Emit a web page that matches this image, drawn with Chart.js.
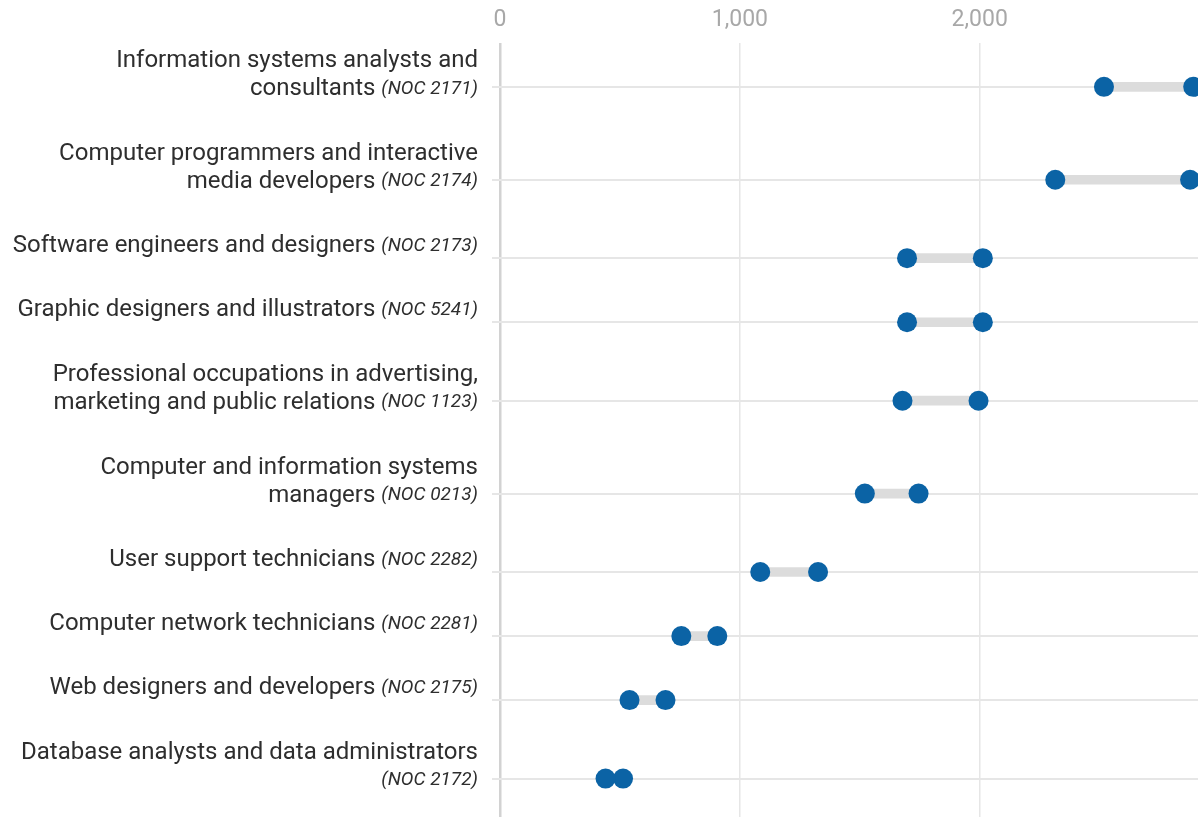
<!DOCTYPE html>
<html>
<head>
<meta charset="utf-8">
<script src="https://cdn.jsdelivr.net/npm/chart.js@4.4.1/dist/chart.umd.min.js"></script>
<style>
  html, body { margin: 0; padding: 0; background: #fff; }
  #wrap { width: 1198px; height: 817px; }
</style>
</head>
<body>
<div id="wrap"><canvas id="dumbbell" width="1198" height="817"></canvas></div>
<script>
// 직업 이름 (줄 단위) 과 NOC 코드
const occupations = [
  ['Information systems analysts and', 'consultants'],
  ['Computer programmers and interactive', 'media developers'],
  ['Software engineers and designers'],
  ['Graphic designers and illustrators'],
  ['Professional occupations in advertising,', 'marketing and public relations'],
  ['Computer and information systems', 'managers'],
  ['User support technicians'],
  ['Computer network technicians'],
  ['Web designers and developers'],
  ['Database analysts and data administrators', '']
];
const nocCodes = ['2171', '2174', '2173', '5241', '1123', '0213', '2282', '2281', '2175', '2172'];

// 시작값 / 끝값
const lowValues = [2518, 2315, 1697, 1697, 1678, 1521, 1085, 756, 540, 440];
const highValues = [2890, 2877, 2013, 2013, 1995, 1745, 1326, 906, 690, 513];

// x축 눈금
const xTicks = [0, 1000, 2000];

// 두 줄 라벨은 행 간격을 넓게
const rowPos = [];
let acc = 0;
occupations.forEach((lines, i) => {
  const h = lines.length > 1 ? 1.45 : 1;
  if (i > 0) {
    const prevH = occupations[i - 1].length > 1 ? 1.45 : 1;
    acc += (prevH + h) / 2;
  }
  rowPos.push(acc);
});

const BLUE = '#0b63a5';
const LABEL_RIGHT = 478;

// 라벨 그리기 (일반 + 이탤릭 NOC)
const labelPlugin = {
  id: 'rowLabels',
  afterDraw(chart) {
    const ctx = chart.ctx;
    const yScale = chart.scales.y;
    ctx.save();
    ctx.fillStyle = '#2e2e2e';
    ctx.textBaseline = 'middle';
    ctx.textAlign = 'right';
    occupations.forEach((lines, i) => {
      const y = yScale.getPixelForValue(rowPos[i]);
      const lastY = lines.length > 1 ? y + 2 : y - 12;
      const noc = '(NOC ' + nocCodes[i] + ')';
      ctx.font = 'italic 19px Roboto';
      const nocW = ctx.measureText(noc).width;
      ctx.fillText(noc, LABEL_RIGHT, lastY);
      ctx.font = '24px Roboto';
      const last = lines[lines.length - 1];
      if (last) ctx.fillText(last, LABEL_RIGHT - nocW - 6, lastY);
      if (lines.length > 1) ctx.fillText(lines[0], LABEL_RIGHT, lastY - 28);
    });
    ctx.restore();
  }
};

const ctx = document.getElementById('dumbbell').getContext('2d');
new Chart(ctx, {
  data: {
    datasets: [
      {
        type: 'bar',
        indexAxis: 'y',
        data: rowPos.map((p, i) => ({ x: [lowValues[i], highValues[i]], y: p })),
        backgroundColor: '#dcdcdc',
        barThickness: 9,
        order: 3
      },
      {
        type: 'scatter',
        data: rowPos.map((p, i) => ({ x: lowValues[i], y: p })),
        backgroundColor: BLUE,
        borderWidth: 0,
        pointRadius: 10,
        pointHoverRadius: 10,
        order: 1
      },
      {
        type: 'scatter',
        data: rowPos.map((p, i) => ({ x: highValues[i], y: p })),
        backgroundColor: BLUE,
        borderWidth: 0,
        pointRadius: 10,
        pointHoverRadius: 10,
        order: 1
      }
    ]
  },
  options: {
    responsive: false,
    animation: false,
    devicePixelRatio: 1,
    layout: { padding: 0, autoPadding: false },
    plugins: {
      legend: { display: false },
      tooltip: { enabled: false }
    },
    scales: {
      x: {
        type: 'linear',
        position: 'top',
        min: 0,
        max: 2910,
        offset: false,
        afterBuildTicks: (scale) => {
          scale.ticks = xTicks.map(v => ({ value: v }));
        },
        afterFit: (scale) => {
          scale.height = 43;
          scale.paddingLeft = 0;
          scale.paddingRight = 0;
        },
        ticks: {
          padding: 9,
          color: '#a8a8a8',
          font: { family: 'Roboto', size: 23 },
          callback: (v) => v.toLocaleString('en-US')
        },
        grid: {
          offset: false,
          drawTicks: false,
          color: (c) => c.tick && c.tick.value === 0 ? '#d2d2d2' : '#e6e6e6',
          lineWidth: (c) => c.tick && c.tick.value === 0 ? 2.5 : 1.5
        },
        border: { display: false }
      },
      y: {
        type: 'linear',
        reverse: true,
        min: -0.685,
        max: 11.40,
        offset: false,
        afterBuildTicks: (scale) => {
          scale.ticks = rowPos.map(v => ({ value: v }));
        },
        afterFit: (scale) => { scale.width = 500; },
        ticks: { display: false },
        grid: {
          offset: false,
          color: '#e6e6e6',
          lineWidth: 2,
          drawTicks: true,
          tickLength: 8
        },
        border: { display: false }
      }
    }
  },
  plugins: [labelPlugin]
});
</script>
</body>
</html>
